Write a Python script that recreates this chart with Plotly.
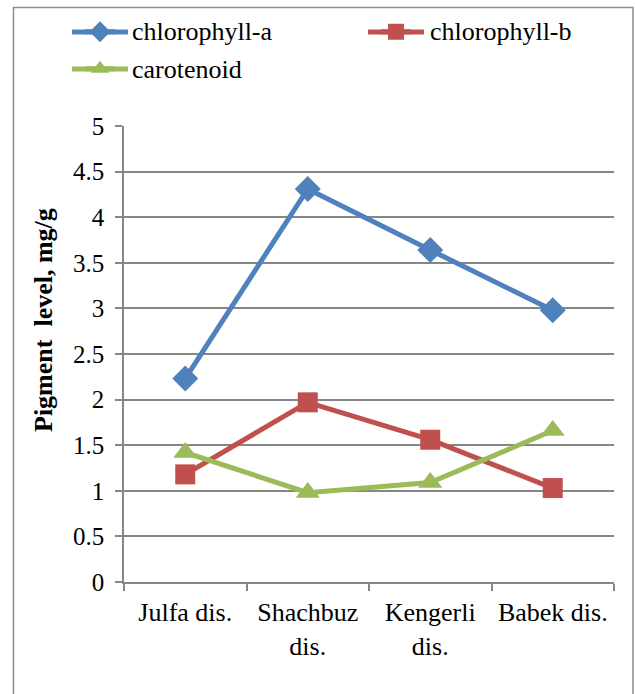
import plotly.graph_objects as go

categories = ["Julfa dis.", "Shachbuz<br>dis.", "Kengerli<br>dis.", "Babek dis."]
chlorophyll_a = [2.23, 4.31, 3.64, 2.98]
chlorophyll_b = [1.18, 1.97, 1.56, 1.03]
carotenoid = [1.42, 0.98, 1.09, 1.66]
series_names = ["chlorophyll-a", "chlorophyll-b", "carotenoid"]
series_colors = ["#4F81BD", "#C0504D", "#9BBB59"]
y_ticks = [0, 0.5, 1, 1.5, 2, 2.5, 3, 3.5, 4, 4.5, 5]
y_ticklabels = ["0", "0.5", "1", "1.5", "2", "2.5", "3", "3.5", "4", "4.5", "5"]

FONT = "Liberation Serif"
W, H = 635, 694
L, R, T, B = 124, 614, 126, 582

def px(x):
    return (x - L) / (R - L)

def py(y):
    return (B - y) / (B - T)

fig = go.Figure()
fig.add_trace(go.Scatter(x=categories, y=chlorophyll_a, name="", mode="lines+markers",
                         line=dict(color=series_colors[0], width=5),
                         marker=dict(symbol="diamond", size=20, color=series_colors[0]), legend="legend"))
fig.add_trace(go.Scatter(x=categories, y=chlorophyll_b, name="", mode="lines+markers",
                         line=dict(color=series_colors[1], width=5),
                         marker=dict(symbol="square", size=20, color=series_colors[1]), legend="legend"))
fig.add_trace(go.Scatter(x=categories, y=carotenoid, name="", mode="lines+markers",
                         line=dict(color=series_colors[2], width=5),
                         marker=dict(symbol="triangle-up", size=21, color=series_colors[2]), legend="legend2"))

# legend key positions (px): line start, line end, text x, row y
legend_keys = [(72, 128, 130, 32), (368, 424, 428, 32), (72, 128, 130, 69)]

shapes = [dict(type="rect", xref="paper", yref="paper",
               x0=px(13.5), x1=px(633), y0=py(720), y1=py(7.5),
               line=dict(color="#8c8c8c", width=1.5), fillcolor="rgba(0,0,0,0)", layer="below")]
annotations = [dict(text="<b>Pigment\u00a0 level, mg/g</b>", xref="paper", yref="paper",
                    x=px(43), y=py(320), textangle=-90, showarrow=False,
                    xanchor="center", yanchor="middle",
                    font=dict(family=FONT, size=26, color="black"))]
for (x0, x1, tx, ry), name, col in zip(legend_keys, series_names, series_colors):
    shapes.append(dict(type="line", xref="paper", yref="paper", x0=px(x0), x1=px(x1),
                       y0=py(ry), y1=py(ry), line=dict(color=col, width=5), layer="above"))
    annotations.append(dict(text=name, xref="paper", yref="paper", x=px(tx), y=py(ry),
                            xanchor="left", yanchor="middle", showarrow=False,
                            font=dict(family=FONT, size=26, color="black")))

fig.update_layout(
    width=W, height=H,
    margin=dict(l=L, r=W - R, t=T, b=H - B, pad=0, autoexpand=False),
    paper_bgcolor="white", plot_bgcolor="white",
    font=dict(family=FONT, size=25, color="black"),
    showlegend=True,
    legend=dict(orientation="h", x=px(80), y=py(32), xanchor="left", yanchor="middle",
                entrywidth=251, bgcolor="rgba(0,0,0,0)"),
    legend2=dict(orientation="h", x=px(80), y=py(69), xanchor="left", yanchor="middle",
                 bgcolor="rgba(0,0,0,0)"),
    xaxis=dict(type="category", range=[-0.5, 3.5], showgrid=False,
               showline=True, linecolor="#868686", linewidth=1.5,
               ticks="outside", tickson="boundaries", ticklen=7, tickcolor="#868686", tickwidth=1.5,
               tickfont=dict(family=FONT, size=26, color="black"), ticklabelstandoff=6),
    yaxis=dict(range=[0, 5], tickvals=y_ticks, ticktext=y_ticklabels,
               showgrid=True, gridcolor="#868686", gridwidth=1.5,
               showline=True, linecolor="#868686", linewidth=1.5, zeroline=False,
               ticks="outside", ticklen=7, tickcolor="#868686", tickwidth=1.5,
               tickfont=dict(family=FONT, size=25, color="black"), ticklabelstandoff=6),
    shapes=shapes,
    annotations=annotations,
)

fig.write_html("out.html", config={"displayModeBar": False},
               post_script="document.body.style.margin='0';")
